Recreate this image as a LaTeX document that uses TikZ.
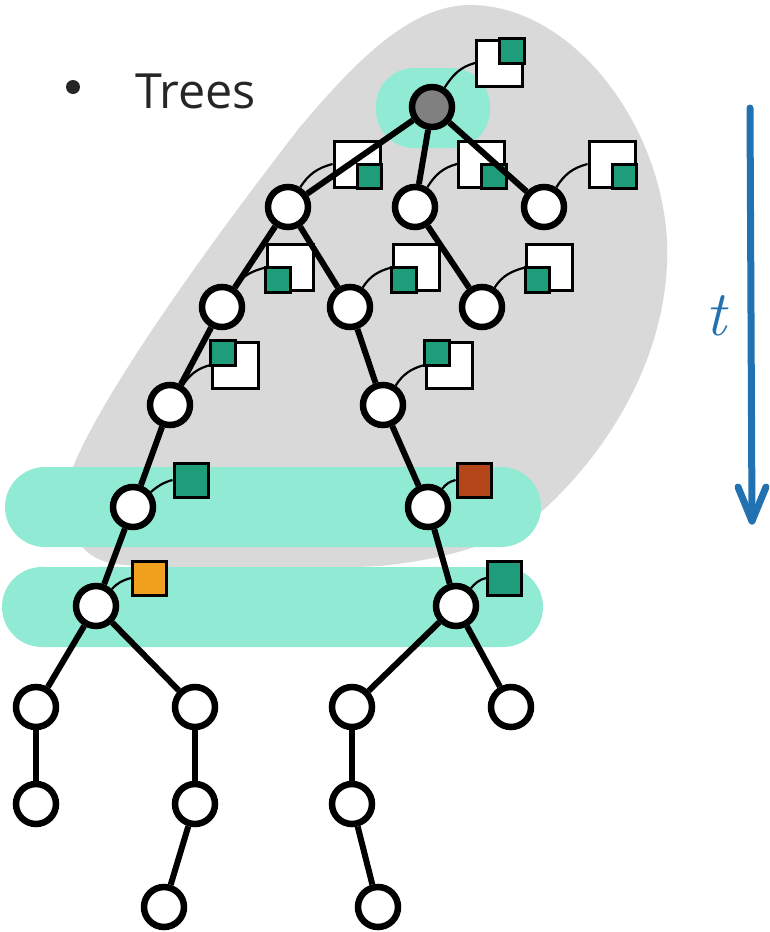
\documentclass[tikz,border=0pt]{standalone}
\usepackage{fontspec}
\newfontfamily\bulletfont{Open Sans}
\definecolor{blobgray}{HTML}{D9D9D9}
\definecolor{bandteal}{HTML}{91EBD4}
\definecolor{qgreen}{HTML}{1F9C79}
\definecolor{qbrown}{HTML}{B4461A}
\definecolor{qorange}{HTML}{F0A01C}
\definecolor{tblue}{HTML}{2271B1}
\definecolor{txtgray}{HTML}{262626}
\begin{document}
\begin{tikzpicture}[x=1pt,y=-1pt,
  tnode/.style={circle,draw=black,line width=6.5pt,fill=white,minimum size=40pt,inner sep=0pt},
  rootnode/.style={tnode,fill=black!50},
  edge/.style={draw=black,line width=6pt},
  conn/.style={draw=black,line width=2.2pt},
  bigbox/.style={rectangle,draw=black,line width=3pt,fill=white,minimum size=46pt,inner sep=0pt},
  smallbox/.style={rectangle,draw=black,line width=3pt,minimum size=34pt,inner sep=0pt},
  quarter/.style={draw=black,line width=3pt,fill=qgreen},
  band/.style={fill=bandteal,draw=none,rounded corners=40pt}
]
\useasboundingbox (0,0) rectangle (769,932);

% gray blob
\fill[blobgray] (470,5) .. controls (570,5) and (660,120) .. (667,240)
  .. controls (672,360) and (600,460) .. (540,513)
  .. controls (500,545) and (440,560) .. (380,566)
  .. controls (300,570) and (150,570) .. (110,563)
  .. controls (75,555) and (62,520) .. (68,480)
  .. controls (95,400) and (220,230) .. (300,127)
  .. controls (355,62) and (410,5) .. (470,5) -- cycle;

% teal highlights
\fill[band] (5,467) rectangle (541,547);
\fill[band] (2,567) rectangle (543,647);
\fill[band,rounded corners=38pt] (376,68) rectangle (490,148);

% bullet text
\fill[txtgray] (73,87) circle (7);
\node[anchor=base west,inner sep=0pt,text=txtgray,font=\bulletfont\fontsize{48.5}{56}\selectfont] (trees) at (135,108) {Trees};

% time arrow
\coordinate (ta) at (750,108);
\coordinate (tb) at (752,521);
\coordinate (tl) at (738,487);
\coordinate (tr) at (766,487);
\draw[tblue,line width=7pt,line cap=round] (ta) -- (tb);
\draw[tblue,line width=7pt,line cap=round,line join=round] (tl) -- (tb) -- (tr);
\node[text=tblue,inner sep=0pt,anchor=base,font=\fontsize{64}{64}\selectfont\itshape] (tlab) at (716,335) {t};

% boxes
\node[bigbox] (B0) at (499.5,63) {};
\node[bigbox] (B1a) at (357,164) {};
\node[bigbox] (B1b) at (481.5,164) {};
\node[bigbox] (B1c) at (612,164) {};
\node[bigbox] (B2a) at (290,267.5) {};
\node[bigbox] (B2b) at (416,267.5) {};
\node[bigbox] (B2c) at (549.5,267.5) {};
\node[bigbox] (B3a) at (235,365) {};
\node[bigbox] (B3b) at (449,365) {};
\draw[quarter] (B0.center) rectangle (B0.north east);
\draw[quarter] (B1a.center) rectangle (B1a.south east);
\draw[quarter] (B1b.center) rectangle (B1b.south east);
\draw[quarter] (B1c.center) rectangle (B1c.south east);
\draw[quarter] (B2a.center) rectangle (B2a.south west);
\draw[quarter] (B2b.center) rectangle (B2b.south west);
\draw[quarter] (B2c.center) rectangle (B2c.south west);
\draw[quarter] (B3a.center) rectangle (B3a.north west);
\draw[quarter] (B3b.center) rectangle (B3b.north west);
\node[smallbox,fill=qgreen] (S4a) at (191,480) {};
\node[smallbox,fill=qbrown] (S4b) at (474,480) {};
\node[smallbox,fill=qorange] (S5a) at (149.5,578) {};
\node[smallbox,fill=qgreen] (S5b) at (504.5,578) {};

% tree nodes
\node[rootnode] (r) at (432,107) {};
\node[tnode] (a1) at (288,207) {};
\node[tnode] (a2) at (415,207) {};
\node[tnode] (a3) at (544,207) {};
\node[tnode] (b1) at (222,307) {};
\node[tnode] (b2) at (350,307) {};
\node[tnode] (b3) at (482,307) {};
\node[tnode] (c1) at (170,405) {};
\node[tnode] (c2) at (383,405) {};
\node[tnode] (d1) at (133,507) {};
\node[tnode] (d2) at (428,507) {};
\node[tnode] (e1) at (96,606) {};
\node[tnode] (e2) at (456,606) {};
\node[tnode] (f1) at (36,707) {};
\node[tnode] (f2) at (195,707) {};
\node[tnode] (f3) at (352,707) {};
\node[tnode] (f4) at (511,707) {};
\node[tnode] (g1) at (36,804) {};
\node[tnode] (g2) at (195,804) {};
\node[tnode] (g3) at (352,804) {};
\node[tnode] (h1) at (164,907) {};
\node[tnode] (h2) at (378,907) {};

% edges
\draw[edge] (r) -- (a1);
\draw[edge] (r) -- (a2);
\draw[edge] (r) -- (a3);
\draw[edge] (a1) -- (b1);
\draw[edge] (a1) -- (b2);
\draw[edge] (a2) -- (b3);
\draw[edge] (b1) -- (c1);
\draw[edge] (b2) -- (c2);
\draw[edge] (c1) -- (d1);
\draw[edge] (c2) -- (d2);
\draw[edge] (d1) -- (e1);
\draw[edge] (d2) -- (e2);
\draw[edge] (e1) -- (f1);
\draw[edge] (e1) -- (f2);
\draw[edge] (e2) -- (f3);
\draw[edge] (e2) -- (f4);
\draw[edge] (f1) -- (g1);
\draw[edge] (f2) -- (g2);
\draw[edge] (f3) -- (g3);
\draw[edge] (g2) -- (h1);
\draw[edge] (g3) -- (h2);

% connectors to boxes
\draw[conn] (r.57) to[out=57,in=195] (B0.west);
\draw[conn] (a1.58) to[out=58,in=195] (B1a.west);
\draw[conn] (a2.58) to[out=58,in=195] (B1b.west);
\draw[conn] (a3.58) to[out=58,in=195] (B1c.west);
\draw[conn] (b1.57) to[out=57,in=195] (B2a.west);
\draw[conn] (b2.57) to[out=57,in=195] (B2b.west);
\draw[conn] (b3.57) to[out=57,in=195] (B2c.west);
\draw[conn] (c1.57) to[out=57,in=195] (B3a.west);
\draw[conn] (c2.57) to[out=57,in=195] (B3b.west);
\draw[conn] (d1.40) to[out=40,in=195] (S4a.west);
\draw[conn] (d2.52) to[out=52,in=195] (S4b.west);
\draw[conn] (e1.47) to[out=47,in=195] (S5a.west);
\draw[conn] (e2.50) to[out=50,in=195] (S5b.west);
\end{tikzpicture}
\end{document}
